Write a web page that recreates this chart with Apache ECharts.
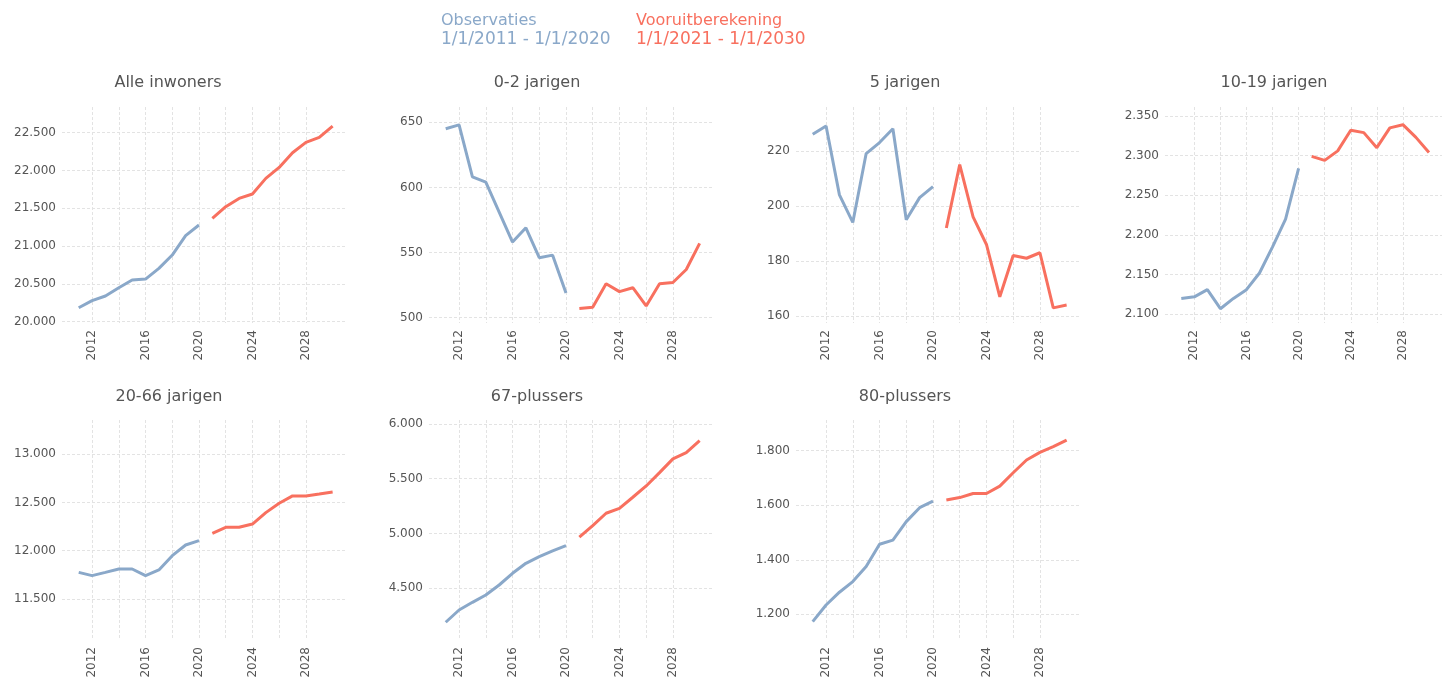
<!DOCTYPE html>
<html>
<head>
<meta charset="utf-8">
<script src="https://cdn.jsdelivr.net/npm/echarts@6/dist/echarts.min.js"></script>
<style>
html,body{margin:0;padding:0;background:#fff;}
#chart{width:1442px;height:683px;}
</style>
</head>
<body>
<div id="chart"></div>
<script>
// ---- data ----
const obsYears = [2011, 2012, 2013, 2014, 2015, 2016, 2017, 2018, 2019, 2020];
const progYears = [2021, 2022, 2023, 2024, 2025, 2026, 2027, 2028, 2029, 2030];

const obsAlle = [20185, 20278, 20340, 20450, 20551, 20564, 20705, 20882, 21138, 21279];
const progAlle = [21367, 21521, 21631, 21689, 21896, 22041, 22235, 22372, 22438, 22588];

const obs02 = [645, 648, 608, 604, 581, 558, 569, 546, 548, 519];
const prog02 = [507, 508, 526, 520, 523, 509, 526, 527, 537, 557];

const obs5 = [226, 229, 204, 194, 219, 223, 228, 195, 203, 207];
const prog5 = [192, 215, 196, 186, 167, 182, 181, 183, 163, 164];

const obs1019 = [2120, 2122, 2131, 2107, 2120, 2131, 2152, 2185, 2220, 2284];
const prog1019 = [2299, 2294, 2306, 2332, 2329, 2310, 2335, 2339, 2323, 2304];

const obs2066 = [11776, 11742, 11776, 11811, 11811, 11742, 11801, 11949, 12060, 12105];
const prog2066 = [12181, 12243, 12243, 12277, 12395, 12492, 12568, 12568, 12588, 12609];

const obs67 = [4190, 4302, 4372, 4439, 4530, 4637, 4728, 4789, 4841, 4890];
const prog67 = [4966, 5072, 5185, 5230, 5331, 5434, 5556, 5681, 5739, 5848];

const obs80 = [1173, 1234, 1281, 1320, 1375, 1457, 1472, 1540, 1591, 1615];
const prog80 = [1619, 1628, 1643, 1643, 1670, 1719, 1766, 1794, 1815, 1839];

const ticksAlle = [20000, 20500, 21000, 21500, 22000, 22500];
const ticks02 = [500, 550, 600, 650];
const ticks5 = [160, 180, 200, 220];
const ticks1019 = [2100, 2150, 2200, 2250, 2300, 2350];
const ticks2066 = [11500, 12000, 12500, 13000];
const ticks67 = [4500, 5000, 5500, 6000];
const ticks80 = [1200, 1400, 1600, 1800];

const yearGridTicks = [2012, 2014, 2016, 2018, 2020, 2022, 2024, 2026, 2028];
const yearLabelTicks = [2012, 2016, 2020, 2024, 2028];

const panelTitles = ['Alle inwoners', '0-2 jarigen', '5 jarigen', '10-19 jarigen', '20-66 jarigen', '67-plussers', '80-plussers'];
const legendNames = ['Observaties', 'Vooruitberekening'];
const legendPeriods = ['1/1/2011 - 1/1/2020', '1/1/2021 - 1/1/2030'];

// ---- layout ----
const BLUE = '#8aa8c9';
const RED = '#f8705f';
const FONT = '"DejaVu Sans", Verdana, sans-serif';

const panels = [
  { obs: obsAlle, prog: progAlle, ticks: ticksAlle, min: 19983, max: 22840, left: 62, top: 107, height: 216, tx: 168, ty: 83 },
  { obs: obs02, prog: prog02, ticks: ticks02, min: 495.9, max: 661.7, left: 429, top: 107, height: 216, tx: 537, ty: 83 },
  { obs: obs5, prog: prog5, ticks: ticks5, min: 157.5, max: 235.9, left: 796, top: 107, height: 216, tx: 905, ty: 83 },
  { obs: obs1019, prog: prog1019, ticks: ticks1019, min: 2089, max: 2361.3, left: 1165, top: 107, height: 216, tx: 1274, ty: 83 },
  { obs: obs2066, prog: prog2066, ticks: ticks2066, min: 11075, max: 13355, left: 62, top: 420, height: 220, tx: 169, ty: 397 },
  { obs: obs67, prog: prog67, ticks: ticks67, min: 4028, max: 6036, left: 429, top: 420, height: 220, tx: 537, ty: 397 },
  { obs: obs80, prog: prog80, ticks: ticks80, min: 1105.7, max: 1912.6, left: 796, top: 420, height: 220, tx: 905, ty: 397 }
];

function fmtThousands(v) {
  return String(Math.round(v)).replace(/\B(?=(\d{3})+(?!\d))/g, '.');
}

const grids = [], xAxes = [], yAxes = [], series = [], graphics = [];
panels.forEach((p, i) => {
  grids.push({ left: p.left, top: p.top, width: 284, height: p.height, containLabel: false });
  xAxes.push({
    type: 'value', gridIndex: i, min: 2009.75, max: 2031,
    axisLine: { show: false },
    axisTick: { show: false, customValues: yearGridTicks },
    axisLabel: {
      customValues: yearLabelTicks, rotate: 90, margin: 7,
      color: '#555', fontFamily: FONT, fontSize: 12,
      formatter: v => String(v)
    },
    splitLine: { show: true, lineStyle: { color: '#e3e3e3', width: 1, type: [3, 2] } }
  });
  yAxes.push({
    type: 'value', gridIndex: i, min: p.min, max: p.max,
    axisLine: { show: false },
    axisTick: { show: false, customValues: p.ticks },
    axisLabel: {
      customValues: p.ticks, margin: 6,
      color: '#555', fontFamily: FONT, fontSize: 12,
      formatter: v => fmtThousands(v)
    },
    splitLine: { show: true, lineStyle: { color: '#e3e3e3', width: 1, type: [3, 2] } }
  });
  series.push({
    type: 'line', xAxisIndex: i, yAxisIndex: i, showSymbol: false, symbol: 'none',
    lineStyle: { color: BLUE, width: 3 }, itemStyle: { color: BLUE },
    data: obsYears.map((y, k) => [y, p.obs[k]]), animation: false, silent: true
  });
  series.push({
    type: 'line', xAxisIndex: i, yAxisIndex: i, showSymbol: false, symbol: 'none',
    lineStyle: { color: RED, width: 3 }, itemStyle: { color: RED },
    data: progYears.map((y, k) => [y, p.prog[k]]), animation: false, silent: true
  });
  graphics.push({
    type: 'text', x: p.tx, y: p.ty,
    style: { text: panelTitles[i], font: '16px ' + FONT, fill: '#555', textAlign: 'center', textVerticalAlign: 'middle' }
  });
});

graphics.push(
  { type: 'text', x: 441, y: 21, style: { text: legendNames[0], font: '16px ' + FONT, fill: BLUE, textAlign: 'left', textVerticalAlign: 'middle' } },
  { type: 'text', x: 441, y: 40, style: { text: legendPeriods[0], font: '17px ' + FONT, fill: BLUE, textAlign: 'left', textVerticalAlign: 'middle' } },
  { type: 'text', x: 636, y: 21, style: { text: legendNames[1], font: '16px ' + FONT, fill: RED, textAlign: 'left', textVerticalAlign: 'middle' } },
  { type: 'text', x: 636, y: 40, style: { text: legendPeriods[1], font: '17px ' + FONT, fill: RED, textAlign: 'left', textVerticalAlign: 'middle' } }
);

const chart = echarts.init(document.getElementById('chart'), null, { renderer: 'canvas' });
chart.setOption({
  animation: false,
  backgroundColor: '#fff',
  grid: grids,
  xAxis: xAxes,
  yAxis: yAxes,
  series: series,
  graphic: graphics
});
</script>
</body>
</html>
